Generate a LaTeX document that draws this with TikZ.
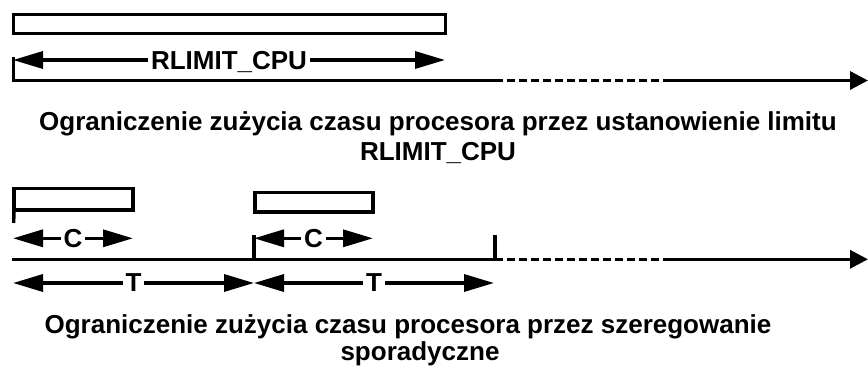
\documentclass[tikz,border=0pt]{standalone}
\usepackage{fontspec}
\setmainfont{Liberation Sans}
\usetikzlibrary{arrows.meta}
\begin{document}
\begin{tikzpicture}[x=1pt,y=-1pt,line width=3.4pt,
  txt/.style={font=\fontsize{26}{30}\selectfont\bfseries},
  lbl/.style={txt,fill=white,inner xsep=3pt,inner ysep=0pt,text depth=0pt},
  captext/.style={txt,inner sep=0pt,anchor=base},
  dimarrow/.style={{Triangle[length=30pt,width=17pt]}-{Triangle[length=30pt,width=17pt]}},
  axisarrow/.style={-{Triangle[length=18pt,width=18pt]}},
  dashpart/.style={dash pattern=on 8pt off 4pt},
  box/.style={draw,inner sep=0pt,outer sep=0pt}
]
\useasboundingbox (0,0) rectangle (868,369);

% ---------- upper diagram ----------
\node[box,minimum width=431.6pt,minimum height=19pt] (B0) at (229.5,24) {};
\coordinate (K0a) at (13.7,57);
\coordinate (T0s) at (12,80.5);
\coordinate (T0a) at (495,80.5);
\coordinate (T0b) at (663,80.5);
\coordinate (T0e) at (868,80.5);
\coordinate (R0a) at (13,60);
\coordinate (R0b) at (445,60);
\draw (K0a) -- (K0a |- T0s);
\draw (T0s) -- (T0a);
\draw[dashpart] (T0a) -- (T0b);
\draw[axisarrow] (T0b) -- (T0e);
\draw[dimarrow] (R0a) -- node[lbl] (RL) {RLIMIT\_CPU} (R0b);

\node[captext] (C1a) at (438,130) {Ograniczenie zużycia czasu procesora przez ustanowienie limitu};
\node[captext] (C1b) at (438,160) {RLIMIT\_CPU};

% ---------- lower diagram ----------
\node[box,minimum width=119pt,minimum height=21.5pt] (B1) at (73.5,199.3) {};
\node[box,minimum width=118pt,minimum height=19.5pt] (B2) at (314,202.3) {};
\coordinate (K1) at (13.7,223);
\coordinate (K2a) at (254,235);
\coordinate (K3a) at (495,235);
\coordinate (T1s) at (12,259.3);
\coordinate (T1a) at (495,259.3);
\coordinate (T1b) at (663,259.3);
\coordinate (T1e) at (868,259.3);
\draw (B1.south west) -- (K1);
\draw (K2a) -- (K2a |- T1s);
\draw (K3a) -- (K3a |- T1s);
\draw (T1s) -- (T1a);
\draw[dashpart] (T1a) -- (T1b);
\draw[axisarrow] (T1b) -- (T1e);

\coordinate (Ca1) at (13,238.3);
\coordinate (Ca2) at (133,238.3);
\coordinate (Cb1) at (254,238.3);
\coordinate (Cb2) at (373,238.3);
\draw[dimarrow] (Ca1) -- node[lbl] (LC1) {C} (Ca2);
\draw[dimarrow] (Cb1) -- node[lbl] (LC2) {C} (Cb2);

\coordinate (Ta1) at (13,283);
\coordinate (Ta2) at (254,283);
\coordinate (Tb2) at (494,283);
\draw[dimarrow] (Ta1) -- node[lbl] (LT1) {T} (Ta2);
\draw[dimarrow] (Ta2) -- node[lbl] (LT2) {T} (Tb2);

\node[captext] (C2a) at (408,333) {Ograniczenie zużycia czasu procesora przez szeregowanie};
\node[captext] (C2b) at (420,360) {sporadyczne};
\end{tikzpicture}
\end{document}
